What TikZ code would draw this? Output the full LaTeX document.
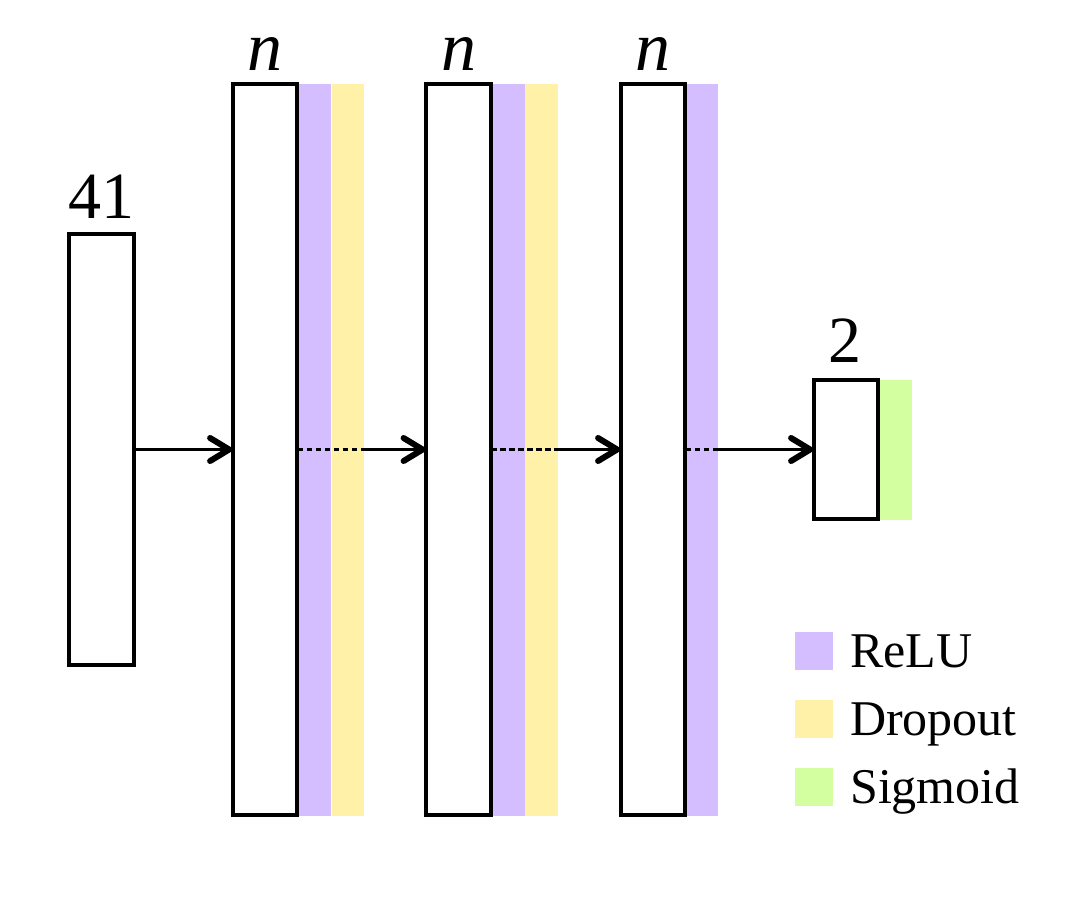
\documentclass[tikz,border=0pt]{standalone}
\usepackage{fontspec}
\setmainfont{Liberation Serif}
\usetikzlibrary{arrows.meta,positioning}
\definecolor{relu}{RGB}{212,190,255}
\definecolor{drop}{RGB}{255,242,168}
\definecolor{sigm}{RGB}{212,255,160}
\tikzset{
  layerbox/.style={draw=black, line width=2.8pt, fill=white, inner sep=0pt, minimum width=63pt, anchor=center},
  bar/.style={inner sep=0pt, minimum width=33pt, anchor=west},
  arr/.style={line width=3.2pt, -{Straight Barb[length=19pt,width=23pt,line width=6pt,round]}},
  dotline/.style={line width=2.5pt, dash pattern=on 5.5pt off 3.5pt},
  lbl/.style={font=\fontsize{66}{70}\selectfont, anchor=base, inner sep=0pt},
  nlbl/.style={font=\fontsize{70}{74}\selectfont\itshape, anchor=base, inner sep=0pt},
  leg/.style={font=\fontsize{50}{56}\selectfont, anchor=base west, inner sep=0pt},
  legsq/.style={inner sep=0pt, minimum size=38pt, anchor=north west}
}
\begin{document}
\begin{tikzpicture}[x=1pt,y=-1pt]
\useasboundingbox (0,0) rectangle (1080,900);
% input
\node[layerbox, minimum height=429pt] (in) at (101.5,449.5) {};
\node[lbl] (t41) at (101,218) {41};
% layer 1
\node[layerbox, minimum height=729pt] (l1) at (265,449.5) {};
\node[bar, fill=relu, minimum height=732pt] (r1) at (l1.east) {};
\node[bar, fill=drop, minimum height=732pt, minimum width=32pt] (d1) at (r1.east) {};
\node[nlbl] (n1) at (265,70) {n};
% layer 2
\node[layerbox, minimum height=729pt] (l2) at (458.5,449.5) {};
\node[bar, fill=relu, minimum height=732pt] (r2) at (l2.east) {};
\node[bar, fill=drop, minimum height=732pt] (d2) at (r2.east) {};
\node[nlbl] (n2) at (459,70) {n};
% layer 3
\node[layerbox, minimum height=729pt] (l3) at (653,449.5) {};
\node[bar, fill=relu, minimum height=732pt, minimum width=32pt] (r3) at (l3.east) {};
\node[nlbl] (n3) at (653,70) {n};
% output
\node[layerbox, minimum height=137pt] (out) at (846,449.5) {};
\node[bar, fill=sigm, minimum height=140pt] (s) at (out.east) {};
\node[lbl] (t2) at (845,362) {2};
% redraw box outlines over bars
\foreach \b in {in,l1,l2,l3,out} {\draw[line width=2.8pt] (\b.north west) rectangle (\b.south east);}
% connectors
\draw[arr] (in.east) -- (l1.west);
\draw[dotline] (l1.east) -- (d1.east);
\draw[arr] (d1.east) -- (l2.west);
\draw[dotline] (l2.east) -- (d2.east);
\draw[arr] (d2.east) -- (l3.west);
\draw[dotline] (l3.east) -- (r3.east);
\draw[arr] (r3.east) -- (out.west);
% legend
\node[legsq, fill=relu] (q1) at (795,632) {};
\node[legsq, fill=drop] (q2) at (795,700) {};
\node[legsq, fill=sigm] (q3) at (795,768) {};
\node[leg] (e1) at (850,667) {ReLU};
\node[leg] (e2) at (850,735) {Dropout};
\node[leg] (e3) at (850,803) {Sigmoid};
\end{tikzpicture}
\end{document}
